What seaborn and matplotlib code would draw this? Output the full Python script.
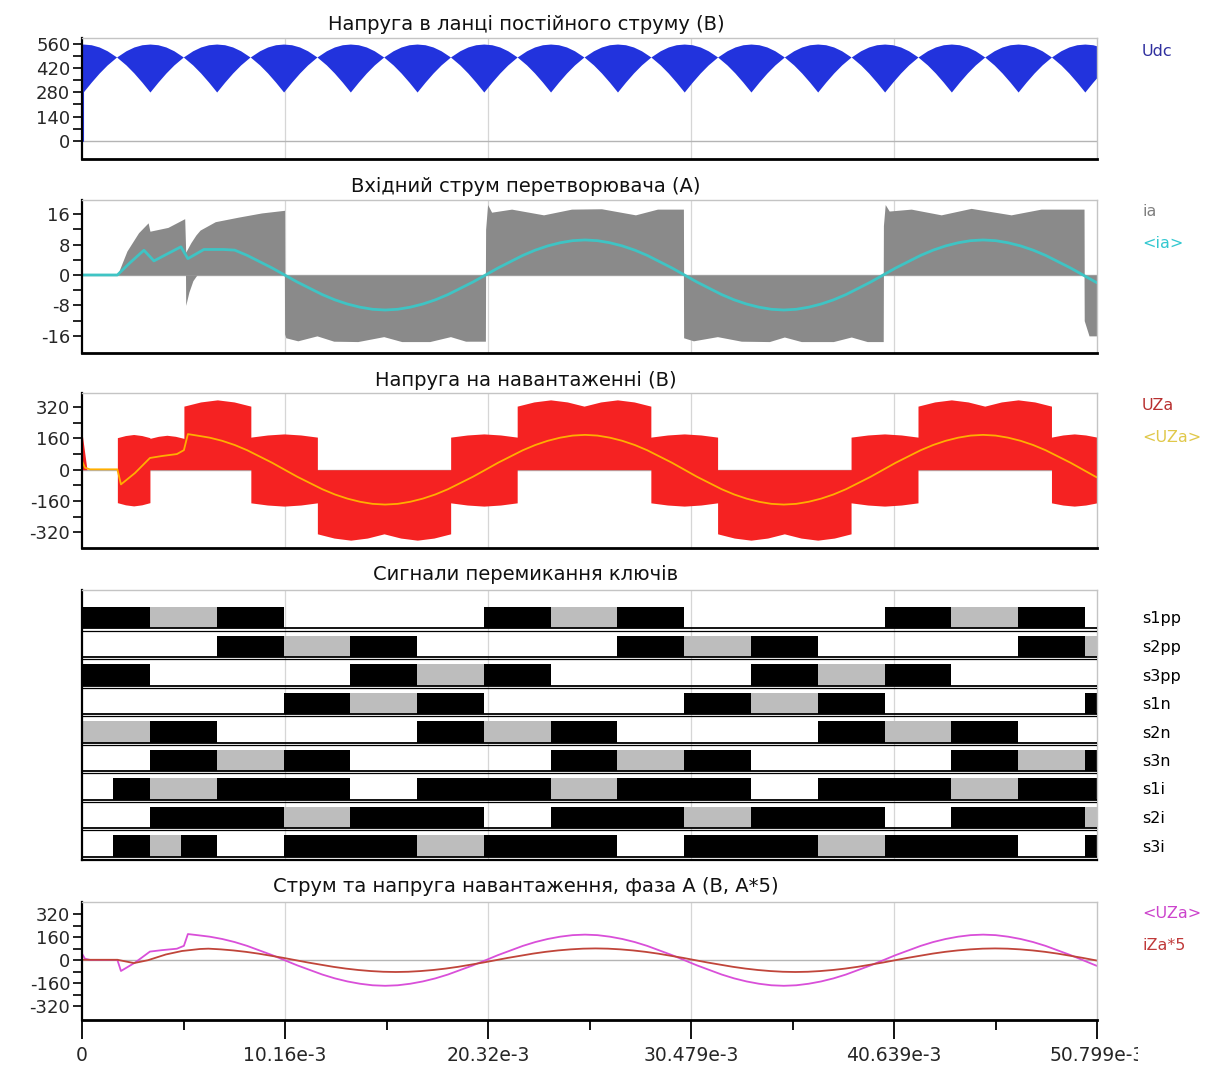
import numpy as np
import seaborn as sns
import matplotlib.pyplot as plt
from matplotlib.transforms import Bbox, TransformedBbox

# time axis (ms on the plot, labelled in seconds the way the scope does)
t_end = 50.799
x_ticks = [0, 10.16, 20.32, 30.479, 40.639, 50.799]
x_tick_labels = ['0', '10.16e-3', '20.32e-3', '30.479e-3', '40.639e-3', '50.799e-3']
x_minor = [5.08, 15.24, 25.40, 35.56, 45.72]

# DC link voltage: centre of each ripple lobe and the lobe outline
udc_dips = [0.06, 3.40, 6.74, 10.09, 13.43, 16.77, 20.11, 23.45, 26.80,
            30.14, 33.48, 36.82, 40.17, 43.51, 46.85, 50.19]
udc_lobe_dt = [-1.67, -1.2, -0.8, -0.4, 0.0, 0.4, 0.8, 1.2, 1.67]
udc_lobe_hi = [485, 521, 543, 556, 560, 556, 543, 521, 485]
udc_lobe_lo = [485, 439, 392, 339, 282, 339, 392, 439, 485]

# converter input current ia (PWM band), positive and negative envelope
ia_pos_t = [0, 1.77, 2.25, 2.83, 3.31, 3.40, 4.30, 5.14, 5.19, 5.45, 5.70, 5.91, 6.67,
            7.83, 8.99, 10.14, 10.15, 20.19, 20.20, 20.30, 20.50, 21.50, 23.10, 24.50,
            26.00, 27.70, 28.80, 30.10, 30.11, 40.10, 40.11, 40.20, 40.40, 41.50, 43.00,
            44.50, 46.50, 48.00, 50.15, 50.16, 50.80]
ia_pos_v = [0, 0, 6.3, 11.1, 13.7, 11.5, 12.5, 14.8, 6.0, 8.5, 10.5, 11.8, 14.0,
            15.2, 16.3, 17.0, 0, 0, 12.0, 18.5, 16.5, 17.3, 15.8, 17.3,
            17.4, 15.8, 17.3, 17.3, 0, 0, 13.0, 18.5, 16.8, 17.3, 15.8,
            17.5, 15.8, 17.3, 17.3, 0, 0]
ia_neg_t = [0, 5.18, 5.19, 5.35, 5.55, 5.75, 10.13, 10.14, 10.20, 10.80, 11.76, 12.60,
            13.80, 15.10, 16.00, 17.40, 18.44, 19.20, 20.19, 20.20, 30.10, 30.11, 30.60,
            31.80, 33.00, 34.40, 35.15, 36.00, 37.60, 38.50, 39.30, 40.10, 40.11, 50.15,
            50.16, 50.40, 50.80]
ia_neg_v = [0, 0, -8.0, -4.5, -1.5, 0, 0, -15.5, -16.5, -17.3, -16.0, -17.4,
            -17.5, -16.2, -17.5, -17.5, -16.2, -17.4, -17.4, 0, 0, -16.5, -17.3,
            -16.2, -17.4, -17.5, -16.3, -17.5, -17.5, -16.3, -17.5, -17.5, 0, 0,
            -12.0, -16.0, -16.0]

# load voltage UZa (PWM band): sections between level changes
uza_pre_t = [0, 0.0, 0.25, 1.77]
uza_pre_hi = [0, 190, 0, 0]
uza_edges = [1.77, 3.40, 5.10, 8.45, 11.78, 18.45, 21.78, 28.47, 31.81, 38.49,
             41.84, 48.52, 50.80]
uza_hi_pk = [180, 176, 357, 183, 0, 183, 357, 183, 0, 183, 357, 183]
uza_lo_pk = [-185, 0, 0, -186, -360, -186, 0, -186, -360, -186, 0, -186]
uza_lobes = [1, 1, 1, 1, 2, 1, 2, 1, 2, 1, 2, 1]
uza_lobe_rel = [0, 0.25, 0.5, 0.75, 1.0]
uza_lobe_shape = [0.91, 0.97, 1.0, 0.97, 0.91]

# averaged signals: start-up part, then half waves between zero crossings
half_wave = [0, 0.20, 0.38, 0.56, 0.71, 0.83, 0.92, 0.98, 1.0,
             0.98, 0.92, 0.83, 0.71, 0.56, 0.38, 0.20, 0]
avg_zero_cross = [0.14, 10.14, 20.20, 30.15, 40.10, 50.10, 60.10]
iza_zero_cross = [0.70, 10.70, 20.70, 30.70, 40.70, 50.70, 60.70]

ia_avg_amp = 9.2
ia_avg_start_t = [0, 1.77, 2.4, 3.1, 3.6, 4.95, 5.3, 6.1, 7.06]
ia_avg_start_v = [0, 0, 3.2, 6.5, 3.7, 7.4, 4.3, 6.7, 6.7]

uza_avg_amp = 178
uza_avg_start_t = [0, 0.15, 0.4, 1.77, 1.95, 2.65, 3.4, 4.0, 4.75, 5.1, 5.3]
uza_avg_start_v = [45, 10, 2, 2, -75, -17, 60, 70, 80, 100, 182]

iza_amp = 82
iza_start_t = [0, 1.77, 2.6, 3.3, 4.2, 5.0, 5.9]
iza_start_v = [3, 3, -20, 0, 40, 64, 78]

# switching signals: 'B' on, 'G' fast PWM (grey), '.' off, per 60-degree sector
sector_t = [0, 3.40, 6.74, 10.09, 13.43, 16.77, 20.11, 23.45, 26.80, 30.14,
            33.48, 36.82, 40.17, 43.51, 46.85, 50.19, 50.80]
t_first_on = 1.55   # 'b': on from here to sector end
t_split = 4.95      # 'x': grey until here, then on
switch_names = ['s1pp', 's2pp', 's3pp', 's1n', 's2n', 's3n', 's1i', 's2i', 's3i']
switch_states = [
    'BGB...BGB...BGB.',
    '..BGB...BGB...BG',
    'B...BGB...BGB...',
    '...BGB...BGB...B',
    'GB...BGB...BGB..',
    '.BGB...BGB...BGB',
    'bGBB.BBGBB.BBGBB',
    '.BBGBB.BBGBB.BBG',
    'bx.BBGBB.BBGBB.B',
]

W, H = 1207, 1065


def sine_track(zero_cross, amp):
    t, v = [], []
    n = len(half_wave) - 1
    for k in range(len(zero_cross) - 1):
        a, b = zero_cross[k], zero_cross[k + 1]
        sign = 1 if k % 2 == 0 else -1
        for j, s in enumerate(half_wave):
            if j == 0 and k > 0:
                continue
            t.append(a + (b - a) * j / n)
            v.append(sign * amp * s)
    return np.array(t), np.array(v)


def avg_track(start_t, start_v, zero_cross, amp, cut):
    t, v = sine_track(zero_cross, amp)
    keep = t > cut
    return np.r_[start_t, t[keep]], np.r_[start_v, v[keep]]


def panel(fig, top, bottom):
    return fig.add_axes([82 / W, 1 - bottom / H, 1015 / W, (bottom - top) / H])


def frame(ax, ylim, major=None, labels=None, minor=None):
    ax.set_xlim(0, t_end)
    ax.set_ylim(*ylim)
    for side in ('top', 'right'):
        ax.spines[side].set_color('#c4c4c4')
        ax.spines[side].set_linewidth(1.0)
    ax.spines['left'].set_color('black')
    ax.spines['left'].set_linewidth(1.6)
    ax.spines['bottom'].set_color('black')
    ax.spines['bottom'].set_linewidth(2.0)
    for x in x_ticks[1:-1]:
        ax.axvline(x, color='#d6d6d6', lw=0.9, zorder=0)
    ax.set_xticks([])
    if major is None:
        ax.set_yticks([])
        return
    ax.axhline(0, color='#b4b4b4', lw=1.0, zorder=0.5)
    ax.set_yticks(major)
    ax.set_yticklabels(labels)
    ax.set_yticks(minor, minor=True)
    ax.tick_params(axis='y', which='both', left=True, direction='out',
                   length=6.5, width=1.2, color='black', labelsize=13, pad=2)


def line(ax, t, v, color, lw):
    sns.lineplot(x=t, y=v, ax=ax, color=color, linewidth=lw,
                 estimator=None, sort=False, legend=False)


def main():
    sns.set_theme(style='white')
    plt.rcParams['font.family'] = ['DejaVu Sans']
    plt.rcParams['axes.unicode_minus'] = False

    fig = plt.figure(figsize=(W / 100, H / 100), dpi=100)
    fig.patch.set_facecolor('white')

    def title(y, text):
        fig.text(526 / W, 1 - y / H, text, ha='center', va='center',
                 fontsize=14, color='#111111')

    def label(y, text, color):
        fig.text(1142 / W, 1 - y / H, text, ha='left', va='center',
                 fontsize=11.5, color=color)

    # --- DC link voltage ---
    ax1 = panel(fig, 38, 159)
    udc_t, udc_hi, udc_lo = [], [], []
    for d in udc_dips:
        for dt, h, l in zip(udc_lobe_dt, udc_lobe_hi, udc_lobe_lo):
            udc_t.append(d + dt)
            udc_hi.append(h)
            udc_lo.append(l)
    ax1.fill_between(udc_t, udc_lo, udc_hi, color='#2233dd', lw=0)
    ax1.plot([0.05, 0.05], [0, 300], color='#2233dd', lw=1.5)
    frame(ax1, (-106, 595), [0, 140, 280, 420, 560],
          ['0', '140', '280', '420', '560'], [70, 210, 350, 490])
    title(25, 'Напруга в ланці постійного струму (В)')
    label(51, 'Udc', '#2f2f9f')

    # --- converter input current ---
    ax2 = panel(fig, 200, 353)
    ax2.fill_between(ia_pos_t, 0, ia_pos_v, color='#8a8a8a', lw=0)
    ax2.fill_between(ia_neg_t, ia_neg_v, 0, color='#8a8a8a', lw=0)
    t, v = avg_track(ia_avg_start_t, ia_avg_start_v, avg_zero_cross, ia_avg_amp, 7.5)
    line(ax2, t, v, '#3fc4c4', 2.0)
    frame(ax2, (-20.5, 19.7), [-16, -8, 0, 8, 16],
          ['-16', '-8', '0', '8', '16'], [-12, -4, 4, 12])
    title(186, 'Вхідний струм перетворювача (А)')
    label(212, 'ia', '#808080')
    label(243, '<ia>', '#33c8d0')

    # --- load voltage ---
    ax3 = panel(fig, 393, 548)
    t_u, hi_u = list(uza_pre_t), list(uza_pre_hi)
    lo_u = [0] * len(uza_pre_t)
    for k in range(len(uza_lobes)):
        a, b = uza_edges[k], uza_edges[k + 1]
        w = (b - a) / uza_lobes[k]
        for j in range(uza_lobes[k]):
            for r, s in zip(uza_lobe_rel, uza_lobe_shape):
                t_u.append(a + (j + r) * w)
                hi_u.append(uza_hi_pk[k] * s)
                lo_u.append(uza_lo_pk[k] * s)
    ax3.fill_between(t_u, lo_u, hi_u, color='#f52222', lw=0)
    t_avg, v_avg = avg_track(uza_avg_start_t, uza_avg_start_v, avg_zero_cross,
                             uza_avg_amp, 5.5)
    line(ax3, t_avg, v_avg, '#ffae00', 1.3)
    frame(ax3, (-400, 392), [-320, -160, 0, 160, 320],
          ['-320', '-160', '0', '160', '320'], [-240, -80, 80, 240])
    title(381, 'Напруга на навантаженні (В)')
    label(406, 'UZa', '#b83030')
    label(437, '<UZa>', '#e0c84a')

    # --- switching signals ---
    ax4 = panel(fig, 590, 860)
    for i, (name, states) in enumerate(zip(switch_names, switch_states)):
        y0 = len(switch_names) - 1 - i
        black, grey = [], []
        for k, ch in enumerate(states):
            a, b = sector_t[k], sector_t[k + 1]
            if ch == 'B':
                black.append((a, b - a))
            elif ch == 'G':
                grey.append((a, b - a))
            elif ch == 'b':
                black.append((t_first_on, b - t_first_on))
            elif ch == 'x':
                grey.append((a, t_split - a))
                black.append((t_split, b - t_split))
        ax4.broken_barh(black, (y0, 0.74), facecolors='black', lw=0, zorder=2)
        ax4.broken_barh(grey, (y0, 0.74), facecolors='#bdbdbd', lw=0, zorder=2)
        ax4.plot([0, t_end], [y0, y0], color='black', lw=1.3, zorder=3)
        if i < len(switch_names) - 1:
            ax4.plot([0, t_end], [y0 - 0.08, y0 - 0.08], color='black', lw=0.9, zorder=3)
        label(619 + i * 28.5, name, 'black')
    frame(ax4, (-0.12, 9.35))
    ax4.spines['bottom'].set_linewidth(1.6)
    title(574, 'Сигнали перемикання ключів')

    # --- load current and voltage, phase A ---
    ax5 = panel(fig, 902, 1020)
    line(ax5, t_avg, v_avg, '#d94fd9', 1.3)
    t, v = avg_track(iza_start_t, iza_start_v, iza_zero_cross, iza_amp, 6.0)
    line(ax5, t, v, '#c0453a', 1.3)
    frame(ax5, (-416, 405), [-320, -160, 0, 160, 320],
          ['-320', '-160', '0', '160', '320'], [-240, -80, 80, 240])
    ax5.set_xticks(x_ticks)
    ax5.set_xticklabels(x_tick_labels)
    ax5.set_xticks(x_minor, minor=True)
    ax5.tick_params(axis='x', which='major', bottom=True, direction='out',
                    length=13.5, width=1.3, color='black', labelsize=13.5, pad=5)
    ax5.tick_params(axis='x', which='minor', bottom=True, direction='out',
                    length=7, width=1.3, color='black')
    ax5.set_xlim(0, t_end)
    clip = TransformedBbox(Bbox.from_extents(0, 0, 1138 / W, 1), fig.transFigure)
    last = ax5.xaxis.get_major_ticks()[-1].label1
    last.set_clip_box(clip)
    last.set_clip_on(True)
    title(887, 'Струм та напруга навантаження, фаза А (В, А*5)')
    label(913, '<UZa>', '#cc44cc')
    label(945, 'iZa*5', '#c03a3a')

    fig.savefig('out.png', dpi=100, facecolor='white')
    plt.close(fig)


if __name__ == '__main__':
    main()
